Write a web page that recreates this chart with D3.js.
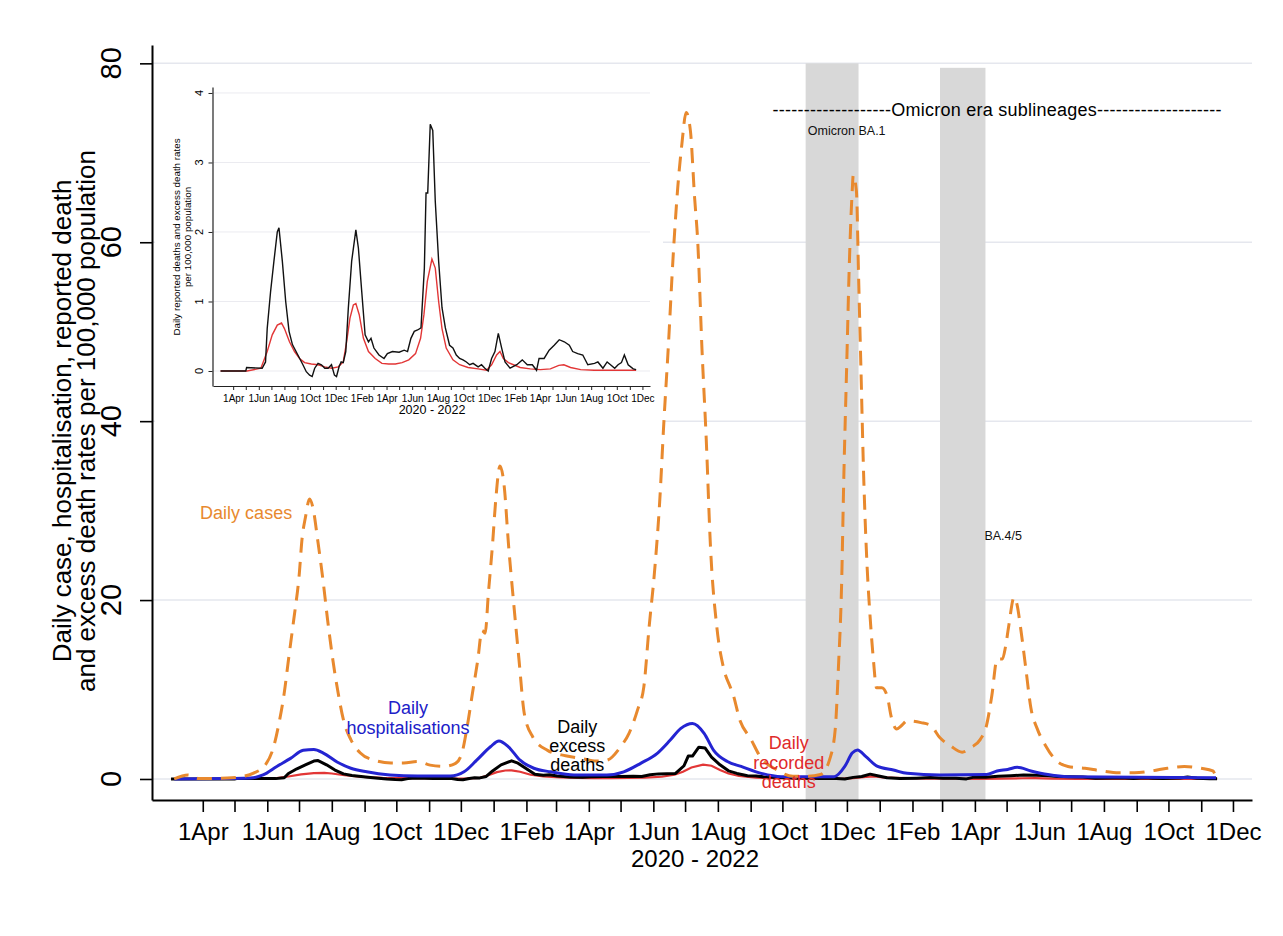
<!DOCTYPE html>
<html>
<head>
<meta charset="utf-8">
<script src="https://cdnjs.cloudflare.com/ajax/libs/d3/7.8.5/d3.min.js"></script>
<style>
    body { margin: 0; background: #fff; }
    svg text { font-family: "Liberation Sans", Arial, Helvetica, sans-serif; fill: #000; }
</style>
</head>
<body>
<div id="chart"></div>
<script>
    // daily case rate per 100,000 (orange dashed)
    var dailyCases = [
        ["2020-03-05", 0], ["2020-03-18", 0.45], ["2020-03-28", 0.05], ["2020-04-24", 0.1],
        ["2020-05-07", 0.25], ["2020-05-19", 0.65], ["2020-05-30", 1.55], ["2020-06-07", 3.6],
        ["2020-06-12", 6.2], ["2020-06-17", 9.6], ["2020-06-21", 13.3], ["2020-06-26", 17.8],
        ["2020-07-01", 22.6], ["2020-07-04", 27.0], ["2020-07-07", 29.2], ["2020-07-11", 31.3],
        ["2020-07-14", 30.4], ["2020-07-19", 26.4], ["2020-07-24", 21.9], ["2020-07-28", 17.8],
        ["2020-08-02", 13.3], ["2020-08-07", 9.6], ["2020-08-12", 6.6], ["2020-08-19", 4.4],
        ["2020-08-28", 2.9], ["2020-09-10", 2.1], ["2020-09-26", 1.8], ["2020-10-08", 1.8],
        ["2020-10-21", 1.95], ["2020-11-02", 1.55], ["2020-11-15", 1.4], ["2020-11-26", 1.75],
        ["2020-12-02", 2.9], ["2020-12-07", 5.85], ["2020-12-12", 9.6], ["2020-12-17", 13.3],
        ["2020-12-21", 16.6], ["2020-12-24", 16.3], ["2020-12-27", 20.7], ["2020-12-31", 26.3],
        ["2021-01-03", 31.2], ["2021-01-07", 35.0], ["2021-01-11", 32.7], ["2021-01-15", 26.3],
        ["2021-01-20", 19.6], ["2021-01-25", 13.3], ["2021-01-30", 7.3], ["2021-02-07", 4.7],
        ["2021-02-21", 3.2], ["2021-03-10", 2.6], ["2021-03-25", 2.3], ["2021-04-08", 2.0],
        ["2021-04-18", 2.1], ["2021-05-01", 3.6], ["2021-05-09", 5.1], ["2021-05-17", 7.7],
        ["2021-05-23", 10.3], ["2021-05-28", 17], ["2021-06-02", 23], ["2021-06-07", 31],
        ["2021-06-11", 40], ["2021-06-15", 48], ["2021-06-20", 59], ["2021-06-24", 66],
        ["2021-06-28", 71], ["2021-07-02", 74.5], ["2021-07-06", 72.5], ["2021-07-10", 65],
        ["2021-07-13", 60], ["2021-07-17", 48], ["2021-07-21", 38], ["2021-07-25", 26],
        ["2021-07-31", 17], ["2021-08-06", 12.6], ["2021-08-13", 10.2], ["2021-08-15", 9.6],
        ["2021-08-22", 6.5], ["2021-09-01", 4.5], ["2021-09-10", 2.5], ["2021-09-26", 1.0],
        ["2021-10-11", 0.3], ["2021-10-25", 0.3], ["2021-11-06", 0.5], ["2021-11-15", 2.3],
        ["2021-11-20", 5.6], ["2021-11-23", 12.5], ["2021-11-26", 21.8], ["2021-11-28", 33.3],
        ["2021-12-01", 47.1], ["2021-12-03", 56.4], ["2021-12-06", 65.7], ["2021-12-07", 67.5],
        ["2021-12-10", 65.7], ["2021-12-12", 56.4], ["2021-12-14", 47.1], ["2021-12-17", 33.3],
        ["2021-12-20", 24], ["2021-12-23", 18], ["2021-12-26", 13.4], ["2021-12-29", 10.2],
        ["2022-01-03", 10.2], ["2022-01-08", 9.3], ["2022-01-12", 6.9], ["2022-01-17", 5.6],
        ["2022-01-22", 6.0], ["2022-01-27", 6.5], ["2022-02-09", 6.3], ["2022-02-18", 6.0],
        ["2022-02-27", 4.6], ["2022-03-09", 3.7], ["2022-03-20", 3.0], ["2022-03-28", 3.5],
        ["2022-04-06", 4.4], ["2022-04-12", 6.0], ["2022-04-17", 9.3], ["2022-04-22", 13.4],
        ["2022-04-27", 13.4], ["2022-04-30", 14.8], ["2022-05-03", 17.1], ["2022-05-08", 20.3],
        ["2022-05-11", 19.4], ["2022-05-14", 17.1], ["2022-05-19", 12.5], ["2022-05-24", 7.9],
        ["2022-05-30", 5.6], ["2022-06-07", 3.7], ["2022-06-15", 2.3], ["2022-06-28", 1.4],
        ["2022-07-14", 1.2], ["2022-07-30", 0.9], ["2022-08-15", 0.7], ["2022-08-30", 0.7],
        ["2022-09-15", 0.9], ["2022-09-30", 1.2], ["2022-10-16", 1.4], ["2022-11-01", 1.2],
        ["2022-11-12", 0.9], ["2022-11-15", 0.2]
    ];

    // daily hospitalisation rate (blue)
    var dailyHosp = [
        ["2020-03-05", 0], ["2020-04-24", 0.05], ["2020-05-16", 0.1], ["2020-05-28", 0.45],
        ["2020-06-10", 1.4], ["2020-06-23", 2.3], ["2020-07-05", 3.2], ["2020-07-15", 3.3],
        ["2020-07-24", 2.9], ["2020-08-06", 1.9], ["2020-08-19", 1.2], ["2020-09-03", 0.8],
        ["2020-09-25", 0.45], ["2020-10-21", 0.33], ["2020-11-21", 0.33], ["2020-12-04", 0.8],
        ["2020-12-16", 2.1], ["2020-12-29", 3.6], ["2021-01-06", 4.25], ["2021-01-15", 3.6],
        ["2021-01-26", 2.1], ["2021-02-08", 1.2], ["2021-02-24", 0.8], ["2021-03-18", 0.45],
        ["2021-04-18", 0.45], ["2021-05-04", 0.8], ["2021-05-20", 1.75], ["2021-06-05", 2.9],
        ["2021-06-17", 4.35], ["2021-06-27", 5.65], ["2021-07-08", 6.2], ["2021-07-19", 5.1],
        ["2021-07-28", 3.2], ["2021-08-10", 1.95], ["2021-08-23", 1.4], ["2021-09-11", 0.63],
        ["2021-09-30", 0.26], ["2021-11-19", 0.26], ["2021-11-29", 1.4], ["2021-12-06", 2.9],
        ["2021-12-11", 3.25], ["2021-12-19", 2.5], ["2021-12-30", 1.4], ["2022-01-14", 1.0],
        ["2022-01-27", 0.63], ["2022-02-27", 0.45], ["2022-04-12", 0.5], ["2022-04-22", 0.9],
        ["2022-05-02", 1.07], ["2022-05-11", 1.3], ["2022-05-24", 0.9], ["2022-06-09", 0.5],
        ["2022-06-28", 0.25], ["2022-11-15", 0.15]
    ];

    // daily excess death rate (black)
    var excessDeaths = [
        ["2020-03-02", 0], ["2020-05-01", 0], ["2020-05-03", 0.05], ["2020-06-09", 0.04],
        ["2020-06-17", 0.13], ["2020-06-21", 0.61], ["2020-06-29", 1.14], ["2020-07-07", 1.58],
        ["2020-07-15", 2.0], ["2020-07-19", 2.06], ["2020-07-27", 1.58], ["2020-08-04", 1.0],
        ["2020-08-12", 0.57], ["2020-08-20", 0.38], ["2020-09-02", 0.23], ["2020-09-14", 0.09],
        ["2020-09-22", -0.01], ["2020-09-30", -0.06], ["2020-10-06", -0.08], ["2020-10-12", 0.04],
        ["2020-10-20", 0.11], ["2020-10-28", 0.09], ["2020-11-05", 0.04], ["2020-11-13", 0.04],
        ["2020-11-21", 0.09], ["2020-11-28", -0.06], ["2020-12-03", -0.08], ["2020-12-09", 0.06],
        ["2020-12-14", 0.13], ["2020-12-19", 0.12], ["2020-12-25", 0.28], ["2020-12-31", 0.9],
        ["2021-01-08", 1.58], ["2021-01-18", 2.03], ["2021-01-24", 1.77], ["2021-02-01", 1.14],
        ["2021-02-09", 0.52], ["2021-02-17", 0.42], ["2021-02-23", 0.47], ["2021-03-02", 0.33],
        ["2021-03-14", 0.23], ["2021-03-26", 0.18], ["2021-04-03", 0.25], ["2021-04-15", 0.28],
        ["2021-05-01", 0.27], ["2021-05-13", 0.30], ["2021-05-21", 0.28], ["2021-05-29", 0.47],
        ["2021-06-06", 0.57], ["2021-06-14", 0.59], ["2021-06-22", 0.62], ["2021-06-30", 1.48],
        ["2021-07-04", 2.56], ["2021-07-08", 2.56], ["2021-07-14", 3.55], ["2021-07-20", 3.46],
        ["2021-07-26", 2.44], ["2021-08-03", 1.58], ["2021-08-11", 0.91], ["2021-08-19", 0.62],
        ["2021-08-29", 0.37], ["2021-09-06", 0.33], ["2021-09-14", 0.23], ["2021-09-22", 0.18],
        ["2021-09-30", 0.16], ["2021-10-08", 0.13], ["2021-10-16", 0.09], ["2021-10-24", 0.11],
        ["2021-11-05", 0.06], ["2021-11-13", 0.09], ["2021-11-21", 0.04], ["2021-11-29", 0],
        ["2021-12-07", 0.18], ["2021-12-15", 0.28], ["2021-12-23", 0.54], ["2021-12-31", 0.33],
        ["2022-01-08", 0.13], ["2022-01-20", 0.04], ["2022-02-05", 0.09], ["2022-02-18", 0.16],
        ["2022-03-02", 0.09], ["2022-03-14", 0.09], ["2022-03-24", 0.01], ["2022-03-30", 0.18],
        ["2022-04-11", 0.18], ["2022-04-23", 0.30], ["2022-05-05", 0.37], ["2022-05-17", 0.45],
        ["2022-05-29", 0.42], ["2022-06-10", 0.37], ["2022-06-18", 0.28], ["2022-06-30", 0.25],
        ["2022-07-12", 0.23], ["2022-07-24", 0.09], ["2022-08-09", 0.11], ["2022-08-17", 0.13],
        ["2022-08-29", 0.04], ["2022-09-08", 0.13], ["2022-09-16", 0.09], ["2022-09-26", 0.04],
        ["2022-10-04", 0.09], ["2022-10-12", 0.12], ["2022-10-19", 0.23], ["2022-10-28", 0.09],
        ["2022-11-09", 0.03], ["2022-11-16", 0.02]
    ];

    // daily recorded (reported) death rate (red)
    var recordedDeaths = [
        ["2020-03-02", 0], ["2020-05-04", 0], ["2020-06-06", 0.04], ["2020-06-21", 0.28],
        ["2020-07-03", 0.52], ["2020-07-15", 0.66], ["2020-07-25", 0.69], ["2020-08-01", 0.61],
        ["2020-08-13", 0.42], ["2020-08-25", 0.28], ["2020-09-06", 0.18], ["2020-09-18", 0.12],
        ["2020-10-04", 0.10], ["2020-10-20", 0.09], ["2020-11-05", 0.06], ["2020-11-21", 0.04],
        ["2020-12-07", 0.06], ["2020-12-19", 0.13], ["2020-12-27", 0.42], ["2021-01-04", 0.76],
        ["2021-01-12", 0.95], ["2021-01-18", 0.97], ["2021-01-26", 0.81], ["2021-02-05", 0.47],
        ["2021-02-17", 0.28], ["2021-03-05", 0.18], ["2021-03-21", 0.11], ["2021-04-06", 0.10],
        ["2021-04-22", 0.10], ["2021-05-08", 0.12], ["2021-05-24", 0.16], ["2021-06-09", 0.25],
        ["2021-06-21", 0.47], ["2021-06-29", 0.81], ["2021-07-07", 1.29], ["2021-07-18", 1.61],
        ["2021-07-26", 1.48], ["2021-08-03", 1.0], ["2021-08-11", 0.61], ["2021-08-21", 0.33],
        ["2021-09-06", 0.16], ["2021-09-22", 0.09], ["2021-10-12", 0.05], ["2021-11-05", 0.03],
        ["2021-11-25", 0.01], ["2021-12-07", 0.09], ["2021-12-19", 0.23], ["2021-12-27", 0.28],
        ["2022-01-04", 0.18], ["2022-01-16", 0.12], ["2022-01-28", 0.09], ["2022-02-13", 0.05],
        ["2022-03-09", 0.03], ["2022-04-02", 0.02], ["2022-04-26", 0.03], ["2022-05-16", 0.08],
        ["2022-05-28", 0.09], ["2022-06-13", 0.05], ["2022-07-07", 0.02], ["2022-08-08", 0.01],
        ["2022-11-16", 0.01]
    ];

    // shaded variant periods: Omicron BA.1 and BA.4/5
    var bandStart = ["2021-10-23", "2022-02-27"];
    var bandEnd = ["2021-12-12", "2022-04-11"];
    var bandTop = [80, 79.5];

    var yTicks = [0, 20, 40, 60, 80];
    var insetYTicks = [0, 1, 2, 3, 4];

    var orange = "#e8892e", blue = "#2424d2", red = "#e23636";

    var parseDate = d3.utcParse("%Y-%m-%d");
    var toPoints = function(arr) {
        return arr.map(function(d) { return { date: parseDate(d[0]), value: d[1] }; });
    };
    var cases = toPoints(dailyCases);
    var hosp = toPoints(dailyHosp);
    var excess = toPoints(excessDeaths);
    var recorded = toPoints(recordedDeaths);

    var width = 1283, height = 936;
    var svg = d3.select("#chart").append("svg")
        .attr("width", width)
        .attr("height", height);

    var domainX = [parseDate("2020-02-13"), parseDate("2022-12-19")];
    var x = d3.scaleUtc().domain(domainX).range([152, 1252]);
    var y = d3.scaleLinear().domain([-2.35, 82.05]).range([800, 45]);

    var monthTicks = d3.utcMonth.range(parseDate("2020-04-01"), parseDate("2022-12-02"));
    var fmtMonth = d3.utcFormat("%b");
    var monthLabel = function(d, i) { return i % 2 === 0 ? "1" + fmtMonth(d) : ""; };

    // grid lines
    svg.append("g").selectAll("line")
        .data(yTicks)
        .enter().append("line")
        .attr("x1", 152).attr("x2", 1252)
        .attr("y1", function(d) { return y(d); })
        .attr("y2", function(d) { return y(d); })
        .attr("stroke", "#e5e7ee")
        .attr("stroke-width", 1.5);

    // variant bands
    svg.append("g").selectAll("rect")
        .data(bandStart)
        .enter().append("rect")
        .attr("x", function(d) { return x(parseDate(d)); })
        .attr("width", function(d, i) { return x(parseDate(bandEnd[i])) - x(parseDate(d)); })
        .attr("y", function(d, i) { return y(bandTop[i]); })
        .attr("height", function(d, i) { return y.range()[0] - y(bandTop[i]); })
        .attr("fill", "#d8d8d8");

    // ---------- inset ----------
    var inset = svg.append("g");
    inset.append("rect")
        .attr("x", 155).attr("y", 72)
        .attr("width", 508).attr("height", 356)
        .attr("fill", "#fff");

    var xi = d3.scaleUtc().domain(domainX).range([213, 650]);
    var yi = d3.scaleLinear().domain([-0.216, 4.086]).range([386, 87]);

    inset.append("g").selectAll("line")
        .data(insetYTicks)
        .enter().append("line")
        .attr("x1", 213).attr("x2", 650)
        .attr("y1", function(d) { return yi(d); })
        .attr("y2", function(d) { return yi(d); })
        .attr("stroke", "#ebebf0")
        .attr("stroke-width", 1);

    var xiAxis = inset.append("g")
        .attr("transform", "translate(0,386)")
        .call(d3.axisBottom(xi).tickValues(monthTicks).tickSize(4).tickSizeOuter(0).tickFormat(monthLabel));
    xiAxis.select(".domain").attr("stroke", "#222").attr("stroke-width", 1.2);
    xiAxis.selectAll(".tick line").attr("stroke", "#222");
    xiAxis.selectAll("text")
        .attr("y", 16).attr("dy", 0)
        .style("font-size", "10px")
        .style("font-family", "'Liberation Sans', Arial, sans-serif")
        .attr("fill", "#111");

    var yiAxis = inset.append("g")
        .attr("transform", "translate(212.5,0)")
        .call(d3.axisLeft(yi).tickValues(insetYTicks).tickSize(4).tickSizeOuter(0).tickFormat(""));
    yiAxis.select(".domain").attr("stroke", "#222").attr("stroke-width", 1.2);
    yiAxis.selectAll(".tick line").attr("stroke", "#222");

    inset.append("g").selectAll("text")
        .data(insetYTicks)
        .enter().append("text")
        .attr("transform", function(d) { return "translate(203," + yi(d) + ") rotate(-90)"; })
        .attr("text-anchor", "middle")
        .style("font-size", "11px")
        .text(function(d) { return d; });

    inset.append("text")
        .attr("transform", "translate(180,237) rotate(-90)")
        .attr("text-anchor", "middle")
        .style("font-size", "9.8px")
        .text("Daily reported deaths and excess death rates");
    inset.append("text")
        .attr("transform", "translate(191,237) rotate(-90)")
        .attr("text-anchor", "middle")
        .style("font-size", "9.8px")
        .text("per 100,000 population");

    inset.append("text")
        .attr("x", 432).attr("y", 414)
        .attr("text-anchor", "middle")
        .style("font-size", "12.5px")
        .text("2020 - 2022");

    var lineInset = d3.line()
        .x(function(d) { return xi(d.date); })
        .y(function(d) { return yi(d.value); });

    inset.append("path").datum(recorded)
        .attr("d", lineInset).attr("fill", "none")
        .attr("stroke", red).attr("stroke-width", 1.4);
    inset.append("path").datum(excess)
        .attr("d", lineInset).attr("fill", "none")
        .attr("stroke", "#111").attr("stroke-width", 1.4);

    // ---------- main axes ----------
    var xAxis = svg.append("g")
        .attr("transform", "translate(0,800)")
        .call(d3.axisBottom(x).tickValues(monthTicks).tickSize(12).tickSizeOuter(0).tickFormat(monthLabel));
    xAxis.select(".domain").attr("stroke", "#000").attr("stroke-width", 2);
    xAxis.selectAll(".tick line").attr("stroke", "#000").attr("stroke-width", 1.6);
    xAxis.selectAll("text")
        .attr("y", 40).attr("dy", 0)
        .style("font-size", "24px")
        .style("font-family", "'Liberation Sans', Arial, sans-serif")
        .attr("fill", "#000");

    var yAxis = svg.append("g")
        .attr("transform", "translate(152,0)")
        .call(d3.axisLeft(y).tickValues(yTicks).tickSize(12).tickSizeOuter(0).tickFormat(""));
    yAxis.select(".domain").attr("stroke", "#000").attr("stroke-width", 2);
    yAxis.selectAll(".tick line").attr("stroke", "#000").attr("stroke-width", 1.6);

    svg.append("g").selectAll("text")
        .data(yTicks)
        .enter().append("text")
        .attr("transform", function(d) { return "translate(121," + y(d) + ") rotate(-90)"; })
        .attr("text-anchor", "middle")
        .style("font-size", "29px")
        .text(function(d) { return d; });

    svg.append("text")
        .attr("transform", "translate(71,421) rotate(-90)")
        .attr("text-anchor", "middle")
        .style("font-size", "26px")
        .text("Daily case, hospitalisation, reported death");
    svg.append("text")
        .attr("transform", "translate(95,421) rotate(-90)")
        .attr("text-anchor", "middle")
        .style("font-size", "26px")
        .text("and excess death rates per 100,000 population");

    svg.append("text")
        .attr("x", 695).attr("y", 867)
        .attr("text-anchor", "middle")
        .style("font-size", "24px")
        .text("2020 - 2022");

    // ---------- main series ----------
    var smooth = d3.line()
        .x(function(d) { return x(d.date); })
        .y(function(d) { return y(d.value); })
        .curve(d3.curveMonotoneX);
    var straight = d3.line()
        .x(function(d) { return x(d.date); })
        .y(function(d) { return y(d.value); });

    svg.append("path").datum(recorded)
        .attr("d", straight).attr("fill", "none")
        .attr("stroke", red).attr("stroke-width", 2.2);
    svg.append("path").datum(excess)
        .attr("d", straight).attr("fill", "none")
        .attr("stroke", "#000").attr("stroke-width", 3).attr("stroke-linejoin", "round");
    svg.append("path").datum(hosp)
        .attr("d", smooth).attr("fill", "none")
        .attr("stroke", blue).attr("stroke-width", 3);
    svg.append("path").datum(cases)
        .attr("d", smooth).attr("fill", "none")
        .attr("stroke", orange).attr("stroke-width", 3)
        .attr("stroke-dasharray", "15,9");

    // ---------- annotations ----------
    var annotations = [
        { lines: ["Daily cases"], color: orange, date: "2020-05-12", value: 29.05, size: 18, anchor: "middle", step: 20 },
        { lines: ["Daily", "hospitalisations"], color: "#2020c8", date: "2020-10-12", value: 7.26, size: 18, anchor: "middle", step: 20 },
        { lines: ["Daily", "excess", "deaths"], color: "#000", date: "2021-03-21", value: 5.14, size: 18, anchor: "middle", step: 19 },
        { lines: ["Daily", "recorded", "deaths"], color: "#e02a2a", date: "2021-10-07", value: 3.35, size: 18, anchor: "middle", step: 19.5 },
        { lines: ["Omicron BA.1"], color: "#111", date: "2021-10-25", value: 72.0, size: 12.5, anchor: "start", step: 0 },
        { lines: ["BA.4/5"], color: "#111", date: "2022-04-10", value: 26.7, size: 12.5, anchor: "start", step: 0 }
    ];

    annotations.forEach(function(a) {
        var t = svg.append("text")
            .attr("text-anchor", a.anchor)
            .style("font-size", a.size + "px")
            .style("fill", a.color);
        a.lines.forEach(function(line, i) {
            t.append("tspan")
                .attr("x", x(parseDate(a.date)))
                .attr("y", y(a.value) + i * a.step)
                .text(line);
        });
    });

    svg.append("text")
        .attr("x", x(parseDate("2022-04-22")))
        .attr("y", y(74.08))
        .attr("text-anchor", "middle")
        .attr("textLength", 449)
        .attr("lengthAdjust", "spacing")
        .style("font-size", "18px")
        .text("-------------------Omicron era sublineages--------------------");
</script>
</body>
</html>
